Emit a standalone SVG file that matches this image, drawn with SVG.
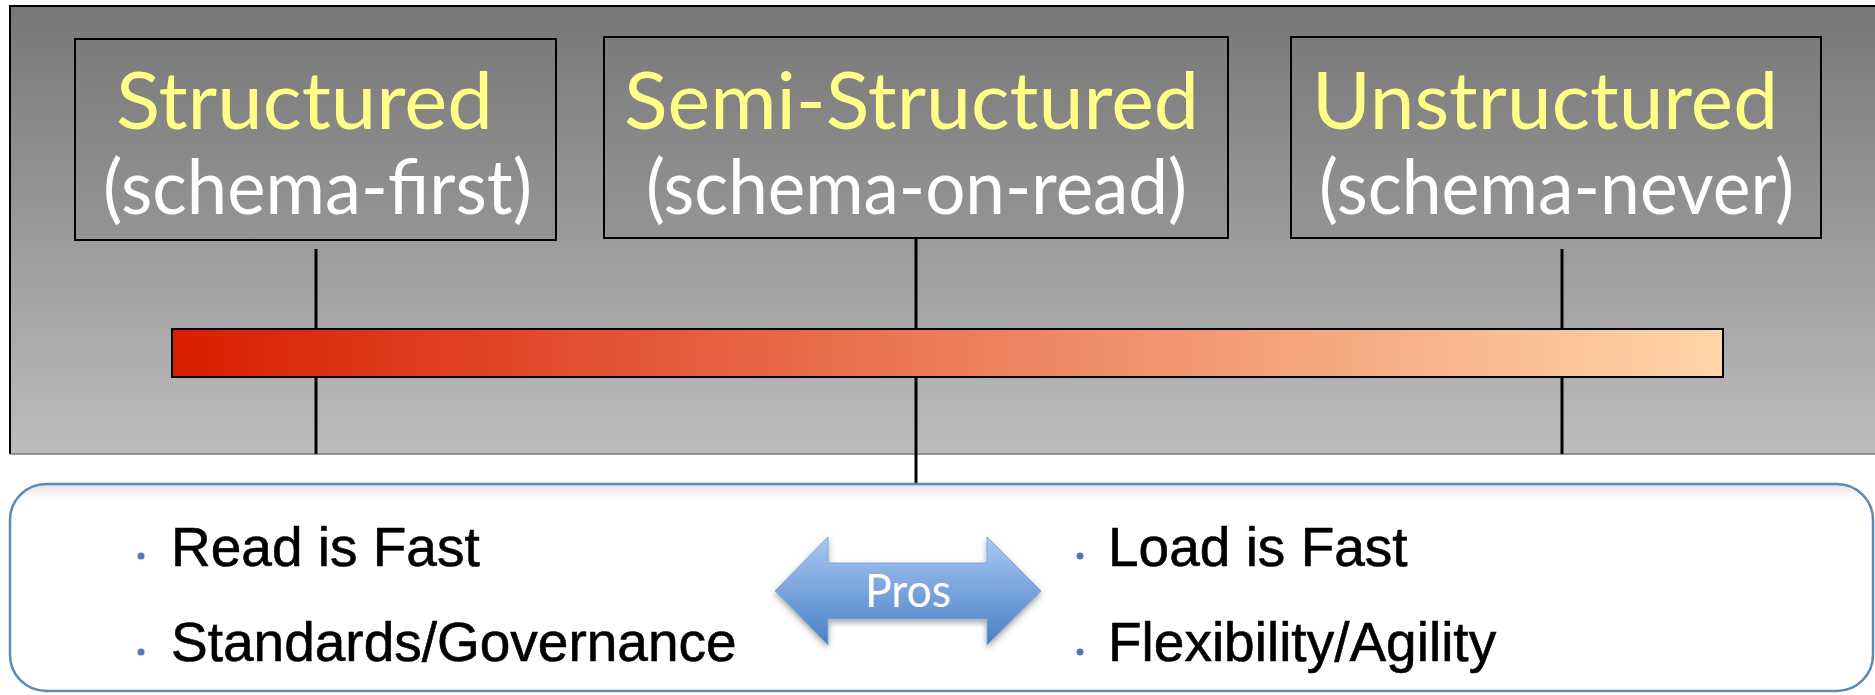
<svg xmlns="http://www.w3.org/2000/svg" width="1875" height="695" viewBox="0 0 1875 695">
  <defs>
    <linearGradient id="panelFill" x1="0" y1="0" x2="0" y2="1">
      <stop offset="0" stop-color="#777777"/>
      <stop offset="1" stop-color="#bdbdbd"/>
    </linearGradient>
    <linearGradient id="boxFill" x1="0" y1="0" x2="0" y2="1">
      <stop offset="0" stop-color="#7b7b7b"/>
      <stop offset="1" stop-color="#959595"/>
    </linearGradient>
    <linearGradient id="barFill" x1="0" y1="0" x2="1" y2="0">
      <stop offset="0" stop-color="#d81e00"/>
      <stop offset="0.5" stop-color="#ec7c5a"/>
      <stop offset="1" stop-color="#ffd6a8"/>
    </linearGradient>
    <linearGradient id="prosFill" x1="0" y1="0" x2="0" y2="1">
      <stop offset="0" stop-color="#a9c8f4"/>
      <stop offset="1" stop-color="#4a7fc4"/>
    </linearGradient>
    <linearGradient id="cardFill" x1="0" y1="0" x2="0" y2="1">
      <stop offset="0" stop-color="#e2e2e2"/>
      <stop offset="0.07" stop-color="#ffffff"/>
      <stop offset="1" stop-color="#ffffff"/>
    </linearGradient>
    <filter id="shadow" x="-10%" y="-10%" width="120%" height="130%">
      <feDropShadow dx="0" dy="3" stdDeviation="3" flood-color="#000" flood-opacity="0.35"/>
    </filter>
  </defs>
  <style>
    .box { fill: url(#boxFill); stroke: #000; stroke-width: 2; }
    .title { font-family: Lato, "Open Sans", sans-serif; font-size: 80px; fill: #ffff88; }
    .sub { font-family: Lato, "Open Sans", sans-serif; font-size: 76px; fill: #ffffff; }
    .link { stroke: #000; stroke-width: 3; fill: none; }
    .item { font-family: "Liberation Sans", Arial, sans-serif; font-size: 55px; fill: #000; stroke: #000; stroke-width: 0.6; }
    .dot { fill: #4a7ab8; }
  </style>

  <rect width="1875" height="695" fill="#ffffff"/>

  <!-- background panel -->
  <rect x="10" y="6" width="1870" height="448" fill="url(#panelFill)"/>
  <path d="M10 454 V6 H1875" fill="none" stroke="#000" stroke-width="2"/>
  <line x1="10" y1="454" x2="1875" y2="454" stroke="#7a7a7a" stroke-width="1.5"/>

  <!-- connectors -->
  <g id="connectors">
    <line class="link" x1="316" y1="249" x2="316" y2="454"/>
    <line class="link" x1="916" y1="233" x2="916" y2="484"/>
    <line class="link" x1="1562" y1="249" x2="1562" y2="454"/>
  </g>

  <!-- spectrum bar -->
  <g id="spectrum">
    <rect x="172" y="329" width="1551" height="48" fill="url(#barFill)" stroke="#000" stroke-width="2"/>
  </g>

  <g id="structured">
    <rect class="box" x="75" y="39" width="481" height="201"/>
    <text class="title" x="116" y="129" textLength="377" lengthAdjust="spacingAndGlyphs">Structured</text>
    <text class="sub" x="103" y="214" textLength="429" lengthAdjust="spacingAndGlyphs">(schema-first)</text>
  </g>

  <g id="semi-structured">
    <rect class="box" x="604" y="37" width="624" height="201"/>
    <text class="title" x="624" y="129" textLength="575" lengthAdjust="spacingAndGlyphs">Semi-Structured</text>
    <text class="sub" x="646" y="214" textLength="541" lengthAdjust="spacingAndGlyphs">(schema-on-read)</text>
  </g>

  <g id="unstructured">
    <rect class="box" x="1291" y="37" width="530" height="201"/>
    <text class="title" x="1312" y="129" textLength="466" lengthAdjust="spacingAndGlyphs">Unstructured</text>
    <text class="sub" x="1319" y="214" textLength="475" lengthAdjust="spacingAndGlyphs">(schema-never)</text>
  </g>

  <!-- pros card -->
  <g id="pros-card">
    <rect x="10" y="484" width="1863" height="207" rx="36" ry="36" fill="url(#cardFill)" stroke="#5b89ba" stroke-width="2.5"/>
    <circle class="dot" cx="141" cy="556" r="3.5"/>
    <text class="item" x="171" y="566">Read is Fast</text>
    <circle class="dot" cx="141" cy="652" r="3.5"/>
    <text class="item" x="171" y="661">Standards/Governance</text>
    <circle class="dot" cx="1080" cy="556" r="3.5"/>
    <text class="item" x="1108" y="566">Load is Fast</text>
    <circle class="dot" cx="1080" cy="652" r="3.5"/>
    <text class="item" x="1108" y="661">Flexibility/Agility</text>
  </g>

  <g id="pros-arrow">
    <path d="M775 591 L828 537 V563 H987 V537 L1041 591 L987 645 V619 H828 V645 Z" fill="url(#prosFill)" stroke="#7ea7dd" stroke-width="1" filter="url(#shadow)"/>
    <text x="865" y="607" font-family="Lato, 'Open Sans', sans-serif" font-size="46" fill="#ffffff" textLength="86" lengthAdjust="spacingAndGlyphs">Pros</text>
  </g>
</svg>
